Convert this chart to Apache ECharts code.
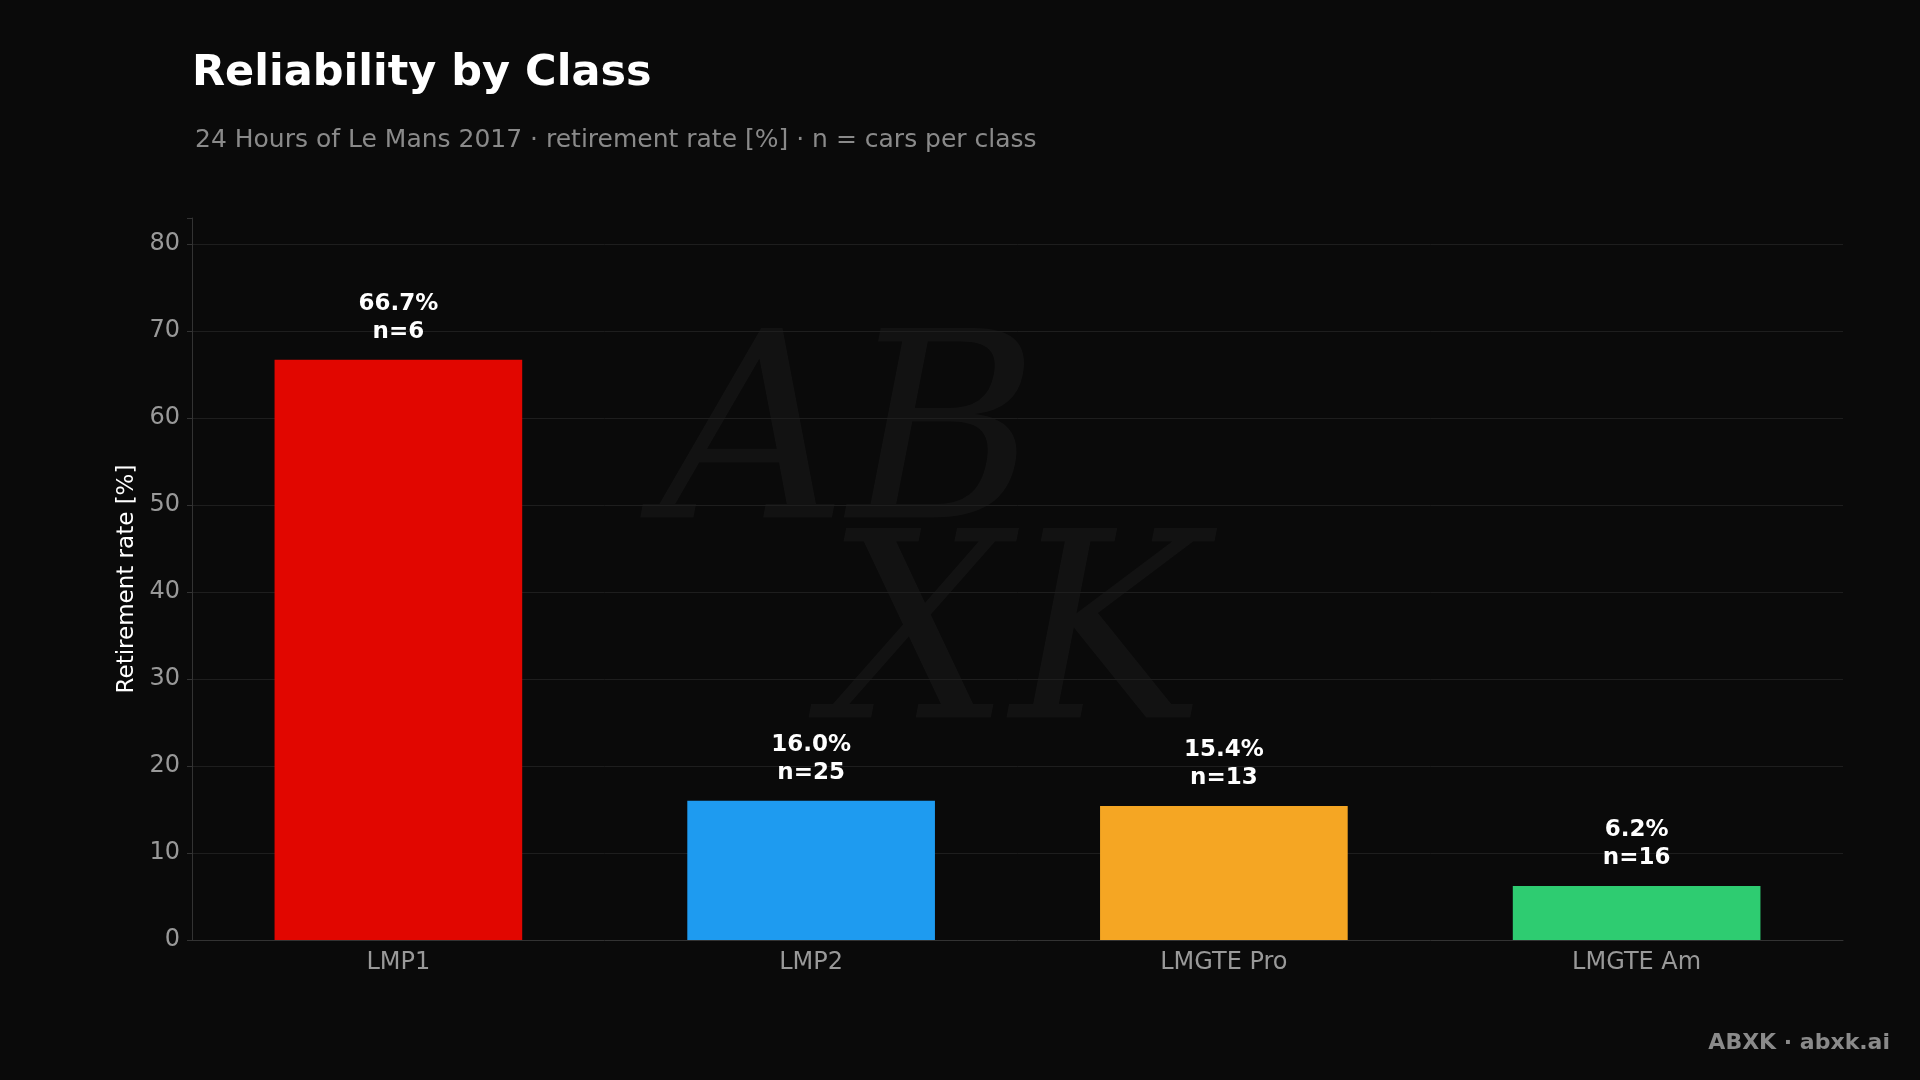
<!DOCTYPE html>
<html><head><meta charset="utf-8">
<script src="https://cdn.jsdelivr.net/npm/echarts@6/dist/echarts.min.js"></script>
<style>html,body{margin:0;padding:0;background:#0a0a0a;}#c{width:1920px;height:1080px;}</style>
</head><body><div id="c"></div>
<script>
const categories = ['LMP1','LMP2','LMGTE Pro','LMGTE Am'];
const rates = [66.7, 16.0, 15.4, 6.2];
const counts = [6, 25, 13, 16];
const colors = ['#e10600','#1e9bf0','#f5a623','#2ecc71'];
const yTicks = [0,10,20,30,40,50,60,70,80];

const chart = echarts.init(document.getElementById('c'));
chart.setOption({
  backgroundColor:'#0a0a0a',
  animation:false,
  title:[
    {text:'Reliability by Class', left:187, top:47, textStyle:{color:'#ffffff',fontSize:43,fontWeight:'bold',fontFamily:'DejaVu Sans'}},
    {text:'24 Hours of Le Mans 2017 · retirement rate [%] · n = cars per class', left:190, top:123, textStyle:{color:'#8a8a8a',fontSize:25,fontWeight:'normal',fontFamily:'DejaVu Sans'}}
  ],
  graphic:[
    {type:'text', left:660, top:320, z:0, style:{text:'AB\n  XK', font:'italic 260px "DejaVu Serif"', fill:'rgba(255,255,255,0.035)', lineHeight:200}},
    {type:'text', right:30, top:1032, style:{text:'ABXK · abxk.ai', font:'bold 22px "DejaVu Sans"', fill:'#8a8a8a'}}
  ],
  grid:{left:192, right:77, top:218, bottom:140},
  xAxis:{type:'category', data:categories,
    axisLine:{lineStyle:{color:'#333'}}, axisTick:{show:false},
    axisLabel:{color:'#999',fontSize:24,fontFamily:'DejaVu Sans',margin:11}},
  yAxis:{type:'value', min:0, max:83, interval:10,
    name:'Retirement rate [%]', nameLocation:'middle', nameGap:52,
    nameTextStyle:{color:'#ffffff',fontSize:23,fontFamily:'DejaVu Sans'},
    axisLine:{show:true,lineStyle:{color:'#333'}}, axisTick:{show:true,length:5,lineStyle:{color:'#333'}},
    axisLabel:{color:'#999',fontSize:24,fontFamily:'DejaVu Sans',margin:12,
      formatter:v=>yTicks.includes(v)?String(v):''},
    splitLine:{show:false}},
  series:[{type:'bar', barWidth:'60%',
    data:rates.map((v,i)=>({value:v,itemStyle:{color:colors[i]}})),
    label:{show:true, position:'top', distance:14, color:'#ffffff', fontSize:23, fontWeight:'bold', fontFamily:'DejaVu Sans', lineHeight:28,
      formatter:p=>p.value.toFixed(1)+'%\nn='+counts[p.dataIndex]},
    markLine:{silent:true, symbol:'none', z:0, label:{show:false},
      lineStyle:{color:'#1e1e1e', type:'solid', width:1},
      data:yTicks.slice(1).map(v=>({yAxis:v}))}
  }]
});
</script></body></html>
